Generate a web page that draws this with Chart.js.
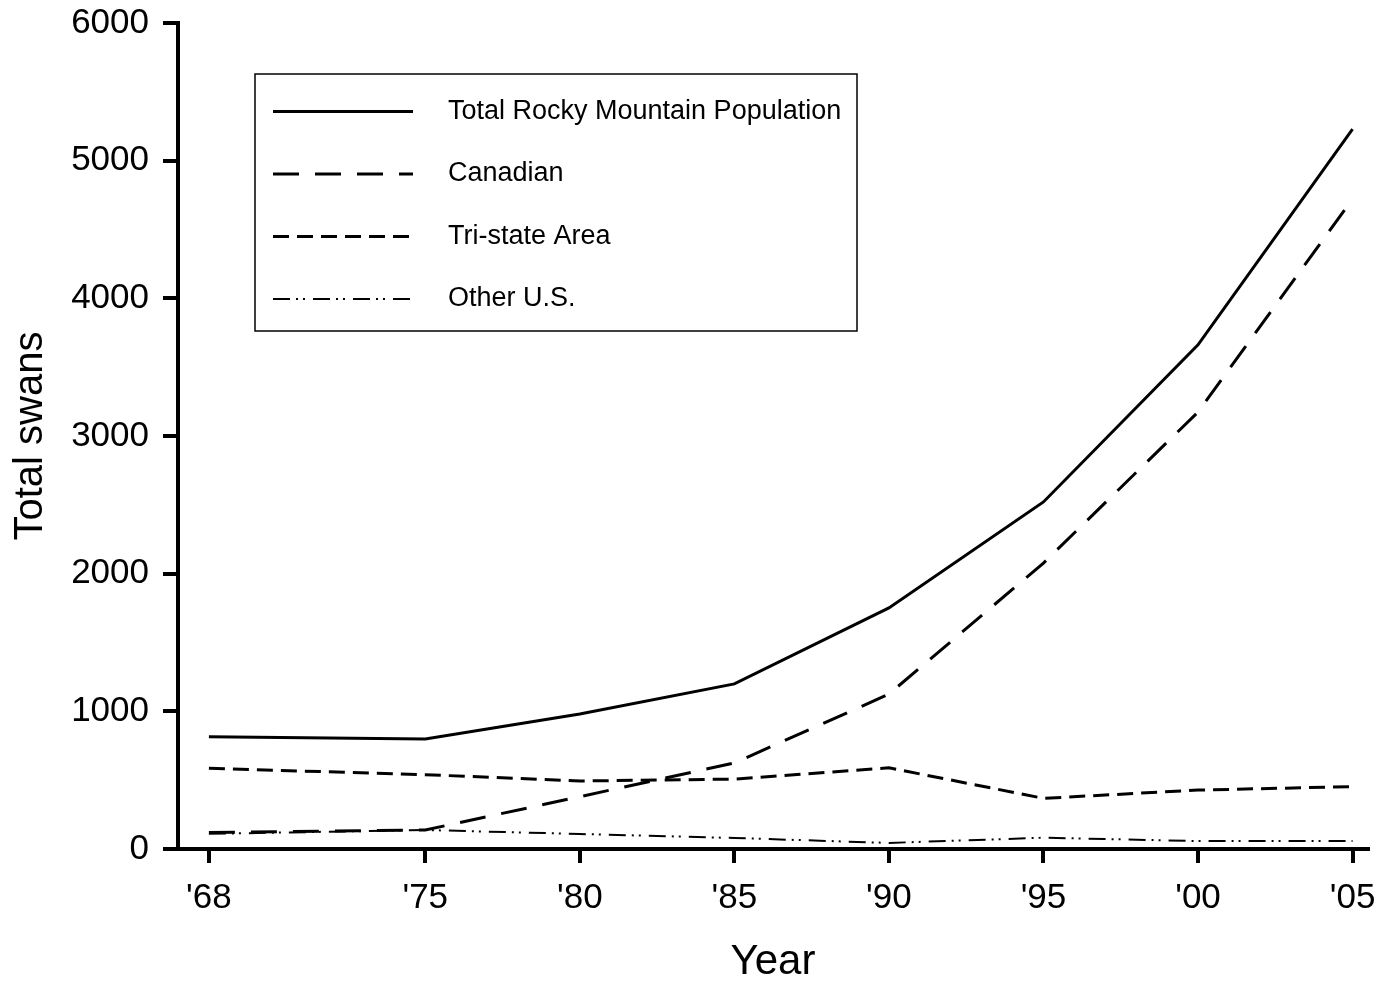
<!DOCTYPE html>
<html>
<head>
<meta charset="utf-8">
<script src="https://cdn.jsdelivr.net/npm/chart.js@4.4.1/dist/chart.umd.min.js"></script>
<style>
  html, body { margin: 0; padding: 0; background: #fff; }
  #wrap { width: 1379px; height: 981px; position: relative; }
</style>
</head>
<body>
<div id="wrap"><canvas id="swanChart"></canvas></div>
<script>
// survey years and swan counts
const years = [1968, 1975, 1980, 1985, 1990, 1995, 2000, 2005];
const totalRM = [815, 799, 981, 1199, 1751, 2521, 3662, 5230];
const canadian = [120, 138, 380, 625, 1125, 2077, 3174, 4721];
const triState = [586, 540, 494, 508, 590, 368, 428, 453];
const otherUS = [110, 138, 109, 80, 44, 82, 58, 58];
const yTicks = [0, 1000, 2000, 3000, 4000, 5000, 6000];

const FONT = '"Liberation Sans", Arial, Helvetica, sans-serif';

const seriesNames = ['Total Rocky Mountain Population', 'Canadian', 'Tri-state Area', 'Other U.S.'];
const seriesData = [totalRM, canadian, triState, otherUS];
const seriesDash = [[], [26, 16], [16, 8], [17, 6, 2, 5, 2, 8]];
const seriesWidth = [3, 3, 3, 2];

const toPoints = arr => arr.map((v, i) => ({ x: years[i], y: v }));

// legend drawn inside the plot, boxed, with long line samples
const boxedLegend = {
    id: 'boxedLegend',
    afterDatasetsDraw(chart) {
        const { ctx, chartArea } = chart;
        const left = chartArea.left + 77;
        const top = chartArea.top + 51;
        const w = 602, h = 257;
        ctx.save();
        ctx.strokeStyle = '#000';
        ctx.lineWidth = 1.5;
        ctx.setLineDash([]);
        ctx.strokeRect(left, top, w, h);
        ctx.font = '27px ' + FONT;
        ctx.fillStyle = '#000';
        ctx.textBaseline = 'middle';
        chart.data.datasets.forEach((ds, i) => {
            const y = top + 37.5 + i * 62.5;
            ctx.beginPath();
            ctx.lineWidth = ds.borderWidth;
            ctx.setLineDash(ds.borderDash || []);
            ctx.moveTo(left + 18, y);
            ctx.lineTo(left + 158, y);
            ctx.stroke();
            ctx.setLineDash([]);
            ctx.fillText(ds.label, left + 193, y);
        });
        ctx.restore();
    }
};

new Chart(document.getElementById('swanChart'), {
    type: 'line',
    data: {
        datasets: seriesData.map((d, i) => ({
            label: seriesNames[i],
            data: toPoints(d),
            borderColor: '#000',
            backgroundColor: '#000',
            borderWidth: seriesWidth[i],
            borderDash: seriesDash[i],
            pointRadius: 0,
            tension: 0,
            fill: false
        }))
    },
    options: {
        responsive: true,
        maintainAspectRatio: false,
        animation: false,
        layout: { padding: { left: 0, top: 23, right: 11, bottom: 0 } },
        plugins: {
            legend: { display: false },
            tooltip: { enabled: false }
        },
        scales: {
            x: {
                type: 'linear',
                min: 1967,
                max: 2005.5,
                afterBuildTicks: scale => { scale.ticks = years.map(v => ({ value: v })); },
                afterFit: scale => {
                    scale.height = 132;
                    scale.paddingLeft = 0;
                    scale.paddingRight = 0;
                },
                border: { display: true, color: '#000', width: 4 },
                grid: { drawOnChartArea: false, drawTicks: true, tickLength: 14, lineWidth: 4, color: '#000' },
                ticks: {
                    color: '#000',
                    padding: 14,
                    maxRotation: 0,
                    font: { family: FONT, size: 35 },
                    callback: v => "'" + String(v).slice(2)
                },
                title: {
                    display: true,
                    text: 'Year',
                    color: '#000',
                    font: { family: FONT, size: 42 },
                    padding: { top: 0, bottom: -7 }
                }
            },
            y: {
                min: 0,
                max: 6000,
                afterBuildTicks: scale => { scale.ticks = yTicks.map(v => ({ value: v })); },
                afterFit: scale => {
                    scale.width = 178;
                    scale.paddingTop = 0;
                    scale.paddingBottom = 0;
                },
                border: { display: true, color: '#000', width: 4 },
                grid: { drawOnChartArea: false, drawTicks: true, tickLength: 15, lineWidth: 4, color: '#000' },
                ticks: {
                    color: '#000',
                    padding: 14,
                    font: { family: FONT, size: 35 },
                    callback: v => String(v)
                },
                title: {
                    display: true,
                    text: 'Total swans',
                    color: '#000',
                    font: { family: FONT, size: 40 },
                    padding: { top: 7, bottom: 0 }
                }
            }
        }
    },
    plugins: [boxedLegend]
});
</script>
</body>
</html>
